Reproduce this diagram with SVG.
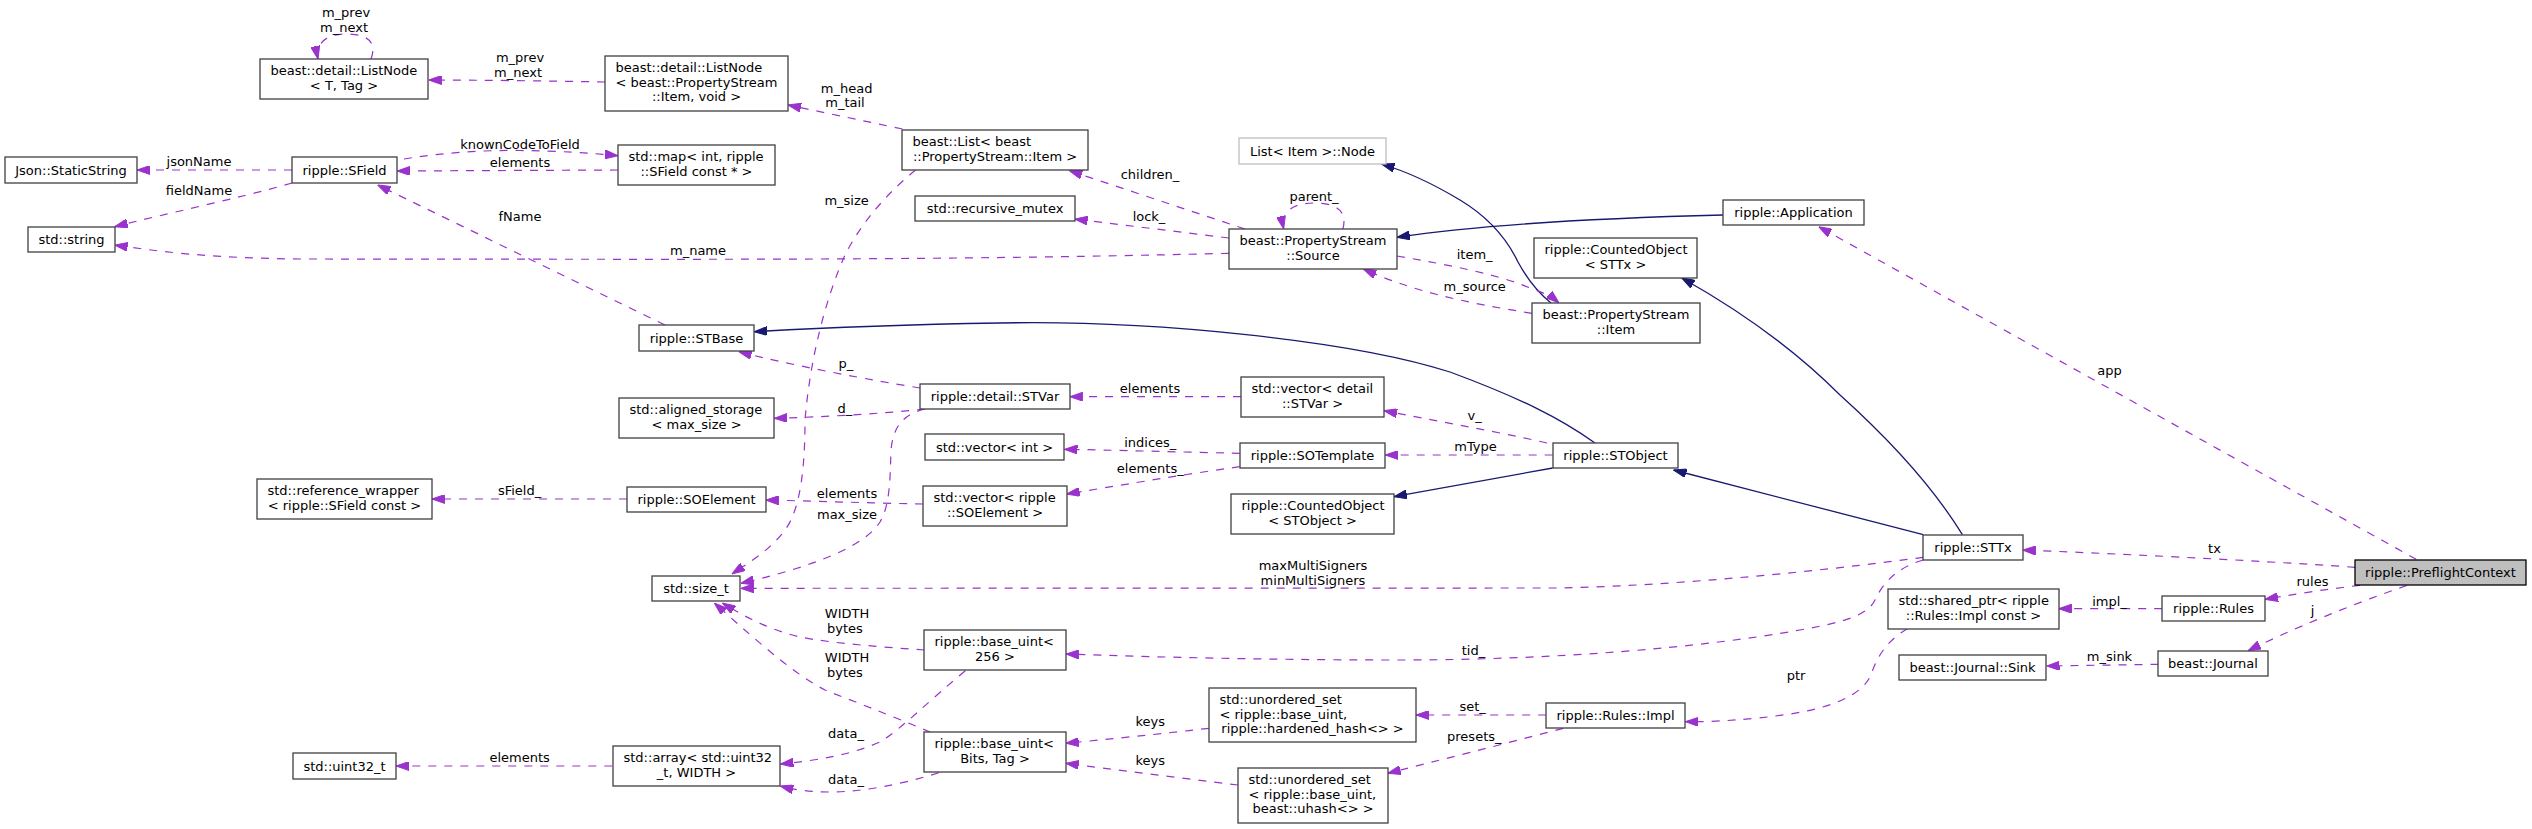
<svg xmlns="http://www.w3.org/2000/svg" width="2532" height="829" viewBox="0 0 2532 829">
<style>
text{font-family:"DejaVu Sans","Liberation Sans",sans-serif;font-size:13px;fill:#000}
.c{text-anchor:middle}
.l{text-anchor:start}
.node rect{fill:#fff;stroke:#404040;stroke-width:1.3}
.node.gray rect{stroke:#bfbfbf}
.node.root rect{fill:#bfbfbf;stroke:#000}
.e{fill:none;stroke:#9a32cd;stroke-width:1.2;stroke-dasharray:8,8}
.i{fill:none;stroke:#191970;stroke-width:1.3}
</style>
<defs>
<marker id="ap" viewBox="0 0 13 9" refX="13" refY="4.5" markerWidth="13" markerHeight="9" orient="auto" markerUnits="userSpaceOnUse"><path d="M0,0 L13,4.5 L0,9 z" fill="#9a32cd" stroke="#9a32cd" stroke-dasharray="none"/></marker>
<marker id="an" viewBox="0 0 13 9" refX="13" refY="4.5" markerWidth="13" markerHeight="9" orient="auto" markerUnits="userSpaceOnUse"><path d="M0,0 L13,4.5 L0,9 z" fill="#191970" stroke="#191970"/></marker>
</defs>
<rect width="2532" height="829" fill="#fff"/>
<g id="connectors">
<path class="e" marker-end="url(#ap)" d="M605,82 C550,81 480,80 428.6,80"/>
<path class="e" marker-end="url(#ap)" d="M371,59 C378,40 365,34 345,34 C325,34 315,45 318,59"/>
<path class="e" marker-end="url(#ap)" d="M292,170 L137,170"/>
<path class="e" marker-end="url(#ap)" d="M292,183 C240,198 160,215 114.7,226.7"/>
<path class="e" marker-end="url(#ap)" d="M1229,253.3 C1000,259 800,259.3 640,259.3 L300,259 C200,258 150,250 114.7,245"/>
<path class="e" marker-end="url(#ap)" d="M404,159 C440,153 480,150 520,150.5 C560,151 590,153 618,155.7"/>
<path class="e" marker-end="url(#ap)" d="M618,170 L397,171"/>
<path class="e" marker-end="url(#ap)" d="M665,325 L377.6,185"/>
<path class="e" marker-end="url(#ap)" d="M902.5,129 L788,105"/>
<path class="e" marker-end="url(#ap)" d="M915.5,170 C885,195 860,225 845,255 C825,300 810,360 805,420 C805,470 800,510 785,530 C770,550 750,562 732,574"/>
<path class="e" marker-end="url(#ap)" d="M1245,229 L1069.4,170.7"/>
<path class="e" marker-end="url(#ap)" d="M1229,238 L1074.7,219"/>
<path class="e" marker-end="url(#ap)" d="M1342.9,229 C1348,210 1335,203 1314,203 C1293,203 1280,212 1283.7,229"/>
<path class="e" marker-end="url(#ap)" d="M920,388 C870,380 790,365 738.8,351.7"/>
<path class="e" marker-end="url(#ap)" d="M1241,396.7 L1069.8,396.7"/>
<path class="e" marker-end="url(#ap)" d="M925,409 C880,414 820,417 774.3,418.3"/>
<path class="e" marker-end="url(#ap)" d="M925,409 C900,415 893,430 891,450 C890,480 890,505 880,522 C865,545 820,565 740.8,583.3"/>
<path class="i" marker-end="url(#an)" d="M1551,303 C1535,290 1525,275 1518,262 C1505,235 1485,215 1460,200 C1430,182 1405,171 1381.6,164"/>
<path class="e" marker-end="url(#ap)" d="M1396.8,256 C1450,265 1500,275 1530,288 C1545,293 1552,297 1559,303"/>
<path class="e" marker-end="url(#ap)" d="M1532,313.3 C1460,302 1410,290 1363.3,269"/>
<path class="i" marker-end="url(#an)" d="M1723.3,215 C1600,218 1480,225 1396.8,237.3"/>
<path class="i" marker-end="url(#an)" d="M1595,443 C1560,418 1520,398 1450,372 C1350,340 1150,320 1000,323 C880,325 800,329 754.3,331.7"/>
<path class="e" marker-end="url(#ap)" d="M1547,443 C1490,430 1430,420 1384.1,410.7"/>
<path class="e" marker-end="url(#ap)" d="M1552.7,455 L1385.3,455"/>
<path class="e" marker-end="url(#ap)" d="M1239.6,453.3 C1180,452 1110,450 1064.5,449.3"/>
<path class="e" marker-end="url(#ap)" d="M1239.6,466.7 C1180,475 1110,487 1066.6,494"/>
<path class="e" marker-end="url(#ap)" d="M923,504 C870,503 810,501 765.7,500"/>
<path class="e" marker-end="url(#ap)" d="M627,499 L431.9,499"/>
<path class="i" marker-end="url(#an)" d="M1552.7,468 L1393.9,496.7"/>
<path class="i" marker-end="url(#an)" d="M1923.2,534.7 L1673.5,470"/>
<path class="i" marker-end="url(#an)" d="M1962.4,534.7 C1935,490 1890,440 1840,395 C1790,345 1730,305 1681.7,278"/>
<path class="e" marker-end="url(#ap)" d="M1923.2,557.3 C1860,566 1700,585 1560,588 L740.8,588.3"/>
<path class="e" marker-end="url(#ap)" d="M1923.2,560 C1895,568 1882,585 1875,600 C1868,615 1845,622 1800,630 C1700,648 1550,660 1400,660 C1250,660 1120,656 1065.8,654"/>
<path class="e" marker-end="url(#ap)" d="M1907.4,628.7 C1888,640 1878,655 1872,672 C1865,695 1830,708 1790,714 C1750,720 1710,722 1685.4,721.7"/>
<path class="e" marker-end="url(#ap)" d="M1546.2,715 L1416,715"/>
<path class="e" marker-end="url(#ap)" d="M1563.3,728.3 C1500,745 1440,760 1387.8,773.3"/>
<path class="e" marker-end="url(#ap)" d="M1209,728.3 C1160,734 1110,739 1065.8,743.3"/>
<path class="e" marker-end="url(#ap)" d="M1238,785 C1180,778 1110,769 1065.8,763.3"/>
<path class="e" marker-end="url(#ap)" d="M924.5,650 C880,647 830,643 800,637 C770,630 745,617 722.4,603"/>
<path class="e" marker-end="url(#ap)" d="M930.6,732.3 C890,715 850,700 825,690 C790,672 745,630 714.3,603"/>
<path class="e" marker-end="url(#ap)" d="M965.3,670.7 C930,700 900,730 880,742 C850,755 820,760 780.4,764"/>
<path class="e" marker-end="url(#ap)" d="M938.8,772.7 C900,785 860,792 830,792 C810,792 795,790 780.4,786"/>
<path class="e" marker-end="url(#ap)" d="M612.3,766 L396,766"/>
<path class="e" marker-end="url(#ap)" d="M2416.2,559.3 L1818.7,226.7"/>
<path class="e" marker-end="url(#ap)" d="M2355,567.3 C2250,560 2100,553 2022.7,550"/>
<path class="e" marker-end="url(#ap)" d="M2360,585.3 C2320,590 2290,595 2265,599.3"/>
<path class="e" marker-end="url(#ap)" d="M2406.8,585.5 C2350,605 2290,630 2248,650.7"/>
<path class="e" marker-end="url(#ap)" d="M2162.2,608.7 L2058.6,608.7"/>
<path class="e" marker-end="url(#ap)" d="M2158.5,664.3 L2046.5,666"/>
<g class="c">
<text class="c" x="520" y="62">m_prev</text><text class="c" x="518" y="77">m_next</text>
<text class="c" x="346" y="16.5">m_prev</text><text class="c" x="344" y="31.5">m_next</text>
<text class="c" x="199" y="166">jsonName</text>
<text class="c" x="199" y="194.5">fieldName</text>
<text class="c" x="698" y="255">m_name</text>
<text class="c" x="520" y="149">knownCodeToField</text>
<text class="c" x="520" y="167">elements</text>
<text class="c" x="520" y="221">fName</text>
<text class="c" x="846.6" y="93">m_head</text><text class="c" x="845" y="107">m_tail</text>
<text class="c" x="846.6" y="205">m_size</text>
<text class="c" x="1150" y="179">children_</text>
<text class="c" x="1149" y="221">lock_</text>
<text class="c" x="1314" y="200.5">parent_</text>
<text class="c" x="846" y="368">p_</text>
<text class="c" x="1150" y="393">elements</text>
<text class="c" x="845" y="413">d_</text>
<text class="c" x="847" y="518.5">max_size</text>
<text class="c" x="1474.7" y="259">item_</text>
<text class="c" x="1474.7" y="291">m_source</text>
<text class="c" x="1474.7" y="419.5">v_</text>
<text class="c" x="1475.5" y="451">mType</text>
<text class="c" x="1150.3" y="447">indices_</text>
<text class="c" x="1150.3" y="473">elements_</text>
<text class="c" x="847" y="498">elements</text>
<text class="c" x="519.6" y="495">sField_</text>
<text class="c" x="1313" y="570">maxMultiSigners</text><text class="c" x="1313" y="585">minMultiSigners</text>
<text class="c" x="1473.5" y="654.5">tid_</text>
<text class="c" x="1796" y="679.5">ptr</text>
<text class="c" x="1472.7" y="711">set_</text>
<text class="c" x="1474.3" y="741">presets_</text>
<text class="c" x="1150.3" y="726">keys</text>
<text class="c" x="1150.3" y="764.5">keys</text>
<text class="c" x="847" y="618">WIDTH</text><text class="c" x="845" y="633">bytes</text>
<text class="c" x="847" y="662">WIDTH</text><text class="c" x="845" y="677">bytes</text>
<text class="c" x="846" y="738">data_</text>
<text class="c" x="846" y="783.5">data_</text>
<text class="c" x="519.6" y="762">elements</text>
<text class="c" x="2109.5" y="374.5">app</text>
<text class="c" x="2214.5" y="553">tx</text>
<text class="c" x="2312.5" y="586">rules</text>
<text class="c" x="2312.5" y="614.5">j</text>
<text class="c" x="2109.5" y="605.5">impl_</text>
<text class="c" x="2109.5" y="661">m_sink</text>
</g>
</g>
<g id="n_listnode_tt" class="node"><rect x="260" y="59" width="168" height="40"/><text class="l" x="270.5" y="75">beast::detail::ListNode</text><text class="c" x="344" y="90">&lt; T, Tag &gt;</text></g>
<g id="n_listnode_ps" class="node"><rect x="605" y="56" width="183" height="55"/><text class="l" x="615.5" y="72">beast::detail::ListNode</text><text class="l" x="615.5" y="86.5">&lt; beast::PropertyStream</text><text class="c" x="696.5" y="101">::Item, void &gt;</text></g>
<g id="n_json" class="node"><rect x="5" y="157" width="132" height="26"/><text class="c" x="71" y="174.5">Json::StaticString</text></g>
<g id="n_sfield" class="node"><rect x="292" y="157" width="105" height="26"/><text class="c" x="344.5" y="174.5">ripple::SField</text></g>
<g id="n_string" class="node"><rect x="28" y="227" width="87" height="25"/><text class="c" x="71.5" y="244">std::string</text></g>
<g id="n_map" class="node"><rect x="618" y="145" width="157" height="40"/><text class="l" x="628.5" y="161">std::map&lt; int, ripple</text><text class="c" x="696.5" y="176">::SField const * &gt;</text></g>
<g id="n_list" class="node"><rect x="902" y="130" width="186" height="40"/><text class="l" x="912.5" y="146">beast::List&lt; beast</text><text class="c" x="995" y="161">::PropertyStream::Item &gt;</text></g>
<g id="n_mutex" class="node"><rect x="915" y="196" width="160" height="25"/><text class="c" x="995" y="213">std::recursive_mutex</text></g>
<g id="n_listnode_item" class="node gray"><rect x="1239" y="138" width="147" height="26"/><text class="c" x="1312.5" y="155.5">List&lt; Item &gt;::Node</text></g>
<g id="n_source" class="node"><rect x="1229" y="229" width="168" height="40"/><text class="l" x="1239.5" y="245">beast::PropertyStream</text><text class="c" x="1313" y="260">::Source</text></g>
<g id="n_app" class="node"><rect x="1723" y="200" width="141" height="25"/><text class="c" x="1793.5" y="217">ripple::Application</text></g>
<g id="n_counted_sttx" class="node"><rect x="1534" y="238" width="163" height="40"/><text class="l" x="1544.5" y="254">ripple::CountedObject</text><text class="c" x="1615.5" y="269">&lt; STTx &gt;</text></g>
<g id="n_item" class="node"><rect x="1532" y="303" width="168" height="40"/><text class="l" x="1542.5" y="319">beast::PropertyStream</text><text class="c" x="1616" y="334">::Item</text></g>
<g id="n_stbase" class="node"><rect x="639" y="325" width="115" height="26"/><text class="c" x="696.5" y="342.5">ripple::STBase</text></g>
<g id="n_stvar" class="node"><rect x="920" y="384" width="150" height="25"/><text class="c" x="995" y="401">ripple::detail::STVar</text></g>
<g id="n_vec_stvar" class="node"><rect x="1241" y="377" width="143" height="40"/><text class="l" x="1251.5" y="393">std::vector&lt; detail</text><text class="c" x="1312.5" y="408">::STVar &gt;</text></g>
<g id="n_aligned" class="node"><rect x="619" y="398" width="155" height="40"/><text class="l" x="629.5" y="414">std::aligned_storage</text><text class="c" x="696.5" y="429">&lt; max_size &gt;</text></g>
<g id="n_vec_int" class="node"><rect x="925" y="434" width="139" height="26"/><text class="c" x="994.5" y="451.5">std::vector&lt; int &gt;</text></g>
<g id="n_sotemplate" class="node"><rect x="1240" y="443" width="145" height="25"/><text class="c" x="1312.5" y="460">ripple::SOTemplate</text></g>
<g id="n_stobject" class="node"><rect x="1553" y="443" width="125" height="25"/><text class="c" x="1615.5" y="460">ripple::STObject</text></g>
<g id="n_refwrap" class="node"><rect x="257" y="479" width="175" height="40"/><text class="l" x="267.5" y="495">std::reference_wrapper</text><text class="c" x="344.5" y="510">&lt; ripple::SField const &gt;</text></g>
<g id="n_soelement" class="node"><rect x="627" y="487" width="139" height="25"/><text class="c" x="696.5" y="504">ripple::SOElement</text></g>
<g id="n_vec_soel" class="node"><rect x="923" y="486" width="144" height="40"/><text class="l" x="933.5" y="502">std::vector&lt; ripple</text><text class="c" x="995" y="517">::SOElement &gt;</text></g>
<g id="n_counted_sto" class="node"><rect x="1231" y="494" width="163" height="40"/><text class="l" x="1241.5" y="510">ripple::CountedObject</text><text class="c" x="1312.5" y="525">&lt; STObject &gt;</text></g>
<g id="n_sttx" class="node"><rect x="1923" y="535" width="100" height="25"/><text class="c" x="1973" y="552">ripple::STTx</text></g>
<g id="n_preflight" class="node root"><rect x="2355" y="560" width="171" height="25"/><text class="c" x="2440.5" y="577">ripple::PreflightContext</text></g>
<g id="n_sizet" class="node"><rect x="652" y="576" width="88" height="25"/><text class="c" x="696" y="593">std::size_t</text></g>
<g id="n_shared" class="node"><rect x="1888" y="589" width="171" height="40"/><text class="l" x="1898.5" y="605">std::shared_ptr&lt; ripple</text><text class="c" x="1973.5" y="620">::Rules::Impl const &gt;</text></g>
<g id="n_rules" class="node"><rect x="2162" y="596" width="103" height="25"/><text class="c" x="2213.5" y="613">ripple::Rules</text></g>
<g id="n_base256" class="node"><rect x="924" y="630" width="142" height="40"/><text class="l" x="934.5" y="646">ripple::base_uint&lt;</text><text class="c" x="995" y="661">256 &gt;</text></g>
<g id="n_sink" class="node"><rect x="1899" y="655" width="147" height="25"/><text class="c" x="1972.5" y="672">beast::Journal::Sink</text></g>
<g id="n_journal" class="node"><rect x="2158" y="651" width="110" height="25"/><text class="c" x="2213" y="668">beast::Journal</text></g>
<g id="n_uset_hh" class="node"><rect x="1209" y="688" width="207" height="54"/><text class="l" x="1219.5" y="704">std::unordered_set</text><text class="l" x="1219.5" y="718.5">&lt; ripple::base_uint,</text><text class="c" x="1312.5" y="733">ripple::hardened_hash&lt;&gt; &gt;</text></g>
<g id="n_impl" class="node"><rect x="1546" y="703" width="139" height="25"/><text class="c" x="1615.5" y="720">ripple::Rules::Impl</text></g>
<g id="n_baseBits" class="node"><rect x="924" y="732" width="142" height="40"/><text class="l" x="934.5" y="748">ripple::base_uint&lt;</text><text class="c" x="995" y="763">Bits, Tag &gt;</text></g>
<g id="n_array" class="node"><rect x="613" y="746" width="167" height="40"/><text class="l" x="623.5" y="762">std::array&lt; std::uint32</text><text class="c" x="696.5" y="777">_t, WIDTH &gt;</text></g>
<g id="n_uint32" class="node"><rect x="293" y="753" width="103" height="26"/><text class="c" x="344.5" y="770.5">std::uint32_t</text></g>
<g id="n_uset_uh" class="node"><rect x="1238" y="768" width="150" height="55"/><text class="l" x="1248.5" y="784">std::unordered_set</text><text class="l" x="1248.5" y="798.5">&lt; ripple::base_uint,</text><text class="c" x="1313" y="813">beast::uhash&lt;&gt; &gt;</text></g>
</svg>
